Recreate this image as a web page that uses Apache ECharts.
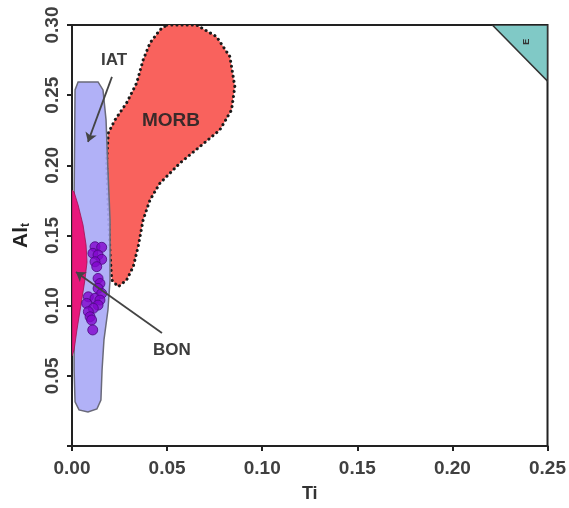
<!DOCTYPE html>
<html><head><meta charset="utf-8">
<script src="https://cdn.jsdelivr.net/npm/echarts@6/dist/echarts.min.js"></script>
<style>html,body{margin:0;padding:0;background:#fff}#c{width:569px;height:508px}</style>
</head><body><div id="c"></div><script>
// Field boundaries (Ti, Al_t)
const morbTi = [0.0498,0.0655,0.0760,0.0830,0.0856,0.0839,0.0777,0.0672,0.0567,0.0462,0.0410,0.0374,0.0348,0.0322,0.0287,0.0243,0.0209,0.0200,0.0191,0.0182,0.0191,0.0226,0.0287,0.0340,0.0374,0.0410,0.0462];
const morbAl = [0.300,0.300,0.2917,0.2775,0.2561,0.2395,0.2252,0.2133,0.2015,0.1872,0.1753,0.1611,0.1421,0.1278,0.1183,0.1135,0.1183,0.1376,0.1661,0.2017,0.2231,0.2324,0.2445,0.2587,0.2751,0.2872,0.2965];
const iatTi = [0.0032,0.0137,0.0163,0.0179,0.0189,0.0200,0.0200,0.0189,0.0168,0.0158,0.0152,0.0131,0.0084,0.0037,0.0016,0.0011,0.0011,0.0016];
const iatAl = [0.2594,0.2594,0.2537,0.2324,0.1967,0.1611,0.1183,0.0969,0.0756,0.0542,0.0328,0.0264,0.0242,0.0257,0.0314,0.0542,0.1753,0.2537];
const bonTi = [0.0000,0.0011,0.0032,0.0058,0.0074,0.0079,0.0068,0.0047,0.0026,0.0011,0.0000];
const bonAl = [0.1825,0.1810,0.1718,0.1575,0.1433,0.1311,0.1183,0.1005,0.0827,0.0684,0.0641];
const oibTi = [0.221,0.25,0.25];
const oibAl = [0.30,0.30,0.26];
// Sample points
const sampleTi = [0.0121,0.0156,0.0110,0.0137,0.0156,0.0121,0.0130,0.0137,0.0147,0.0137,0.0156,0.0086,0.0121,0.0147,0.0077,0.0137,0.0112,0.0086,0.0095,0.0103,0.0109];
const sampleAl = [0.1420,0.1416,0.1373,0.1361,0.1330,0.1313,0.1278,0.1194,0.1158,0.1123,0.1087,0.1063,0.1052,0.1040,0.1016,0.1004,0.0981,0.0957,0.0921,0.0898,0.0827];
// Annotations
const labelNames = ['IAT','MORB','BON'];
const labelTi = [0.0221,0.0520,0.0525];
const labelAl = [0.2751,0.2316,0.0684];
const arrowFromTi = [0.0210,0.0473];
const arrowFromAl = [0.2630,0.0805];
const arrowToTi = [0.0084,0.0021];
const arrowToAl = [0.2167,0.1240];
const cornerLabel = 'E';
const cornerTi = 0.2390, cornerAl = 0.2880;

function polySeries(tis, als, style, z) {
  return {
    type: 'custom', z: z, silent: true, clip: true,
    data: [[tis[0], als[0]]],
    renderItem: function (params, api) {
      const pts = tis.map((t, i) => api.coord([t, als[i]]));
      return { type: 'polygon', shape: { points: pts }, style: style };
    }
  };
}

const font = 'Liberation Sans, Arial, sans-serif';
const chart = echarts.init(document.getElementById('c'), null, { renderer: 'canvas' });
const option = {
  animation: false,
  backgroundColor: '#fff',
  grid: { left: 72, right: 21, top: 25, bottom: 62, show: true, borderColor: '#222', borderWidth: 2, backgroundColor: 'transparent' },
  xAxis: {
    type: 'value', min: 0, max: 0.25, interval: 0.05,
    name: 'Ti', nameLocation: 'middle', nameGap: 39,
    nameTextStyle: { fontFamily: font, fontWeight: 'bold', fontSize: 18, color: '#333' },
    axisLine: { show: true, lineStyle: { color: '#222', width: 2 } },
    axisTick: { show: true, length: 5, lineStyle: { color: '#222', width: 2 } },
    splitLine: { show: false },
    axisLabel: { margin: 13, fontFamily: font, fontWeight: 'bold', fontSize: 19, color: '#404040', formatter: v => v.toFixed(2) }
  },
  yAxis: {
    type: 'value', min: 0, max: 0.30, interval: 0.05,
    name: '{a|Al}{b|t}', nameLocation: 'middle', nameGap: 40,
    nameTextStyle: { rich: {
      a: { fontFamily: font, fontWeight: 'bold', fontSize: 21, color: '#222' },
      b: { fontFamily: font, fontWeight: 'bold', fontSize: 12, color: '#222', padding: [10, 0, 0, 0] }
    } },
    axisLine: { show: true, lineStyle: { color: '#222', width: 2 } },
    axisTick: { show: true, length: 5, lineStyle: { color: '#222', width: 2 } },
    splitLine: { show: false },
    axisLabel: { rotate: 90, margin: 10, fontFamily: font, fontWeight: 'bold', fontSize: 19, color: '#404040',
      formatter: v => Math.abs(v) < 1e-9 ? '' : v.toFixed(2) }
  },
  series: [
    polySeries(morbTi, morbAl, { fill: '#f9625d', stroke: '#1a1a1a', lineWidth: 3, lineDash: [0.1, 5], lineCap: 'round' }, 2),
    polySeries(iatTi, iatAl, { fill: 'rgba(170,170,246,0.92)', stroke: '#6a6a7a', lineWidth: 1.5 }, 3),
    polySeries(bonTi, bonAl, { fill: '#e8187c', stroke: '#a01050', lineWidth: 0.8 }, 4),
    polySeries(oibTi, oibAl, { fill: '#80c9c6', stroke: '#333', lineWidth: 1.5 }, 4),
    {
      type: 'scatter', z: 5, symbol: 'circle', symbolSize: 10,
      data: sampleTi.map((t, i) => [t, sampleAl[i]]),
      itemStyle: { color: '#8205cc', borderColor: '#4a0a80', borderWidth: 1 }
    },
    {
      type: 'lines', coordinateSystem: 'cartesian2d', z: 6,
      symbol: ['none', 'arrow'], symbolSize: 9,
      lineStyle: { color: '#444', width: 1.8, opacity: 1 },
      data: arrowFromTi.map((t, i) => ({ coords: [[t, arrowFromAl[i]], [arrowToTi[i], arrowToAl[i]]] }))
    },
    {
      type: 'custom', z: 7, silent: true,
      data: labelNames.map((n, i) => [labelTi[i], labelAl[i], n]),
      renderItem: function (params, api) {
        const p = api.coord([api.value(0), api.value(1)]);
        const name = labelNames[params.dataIndex];
        return { type: 'text', x: p[0], y: p[1], style: {
          text: name, fill: name === 'MORB' ? '#3a2a2a' : '#3c3c3c',
          font: 'bold ' + (name === 'MORB' ? 19 : 17) + 'px ' + font,
          align: 'center', verticalAlign: 'middle' } };
      }
    },
    {
      type: 'custom', z: 7, silent: true,
      data: [[cornerTi, cornerAl]],
      renderItem: function (params, api) {
        const p = api.coord([api.value(0), api.value(1)]);
        return { type: 'text', x: p[0], y: p[1], rotation: Math.PI / 2, style: {
          text: cornerLabel, fill: '#333', font: 'bold 9px ' + font, align: 'center', verticalAlign: 'middle' } };
      }
    }
  ]
};
chart.setOption(option);
</script></body></html>
